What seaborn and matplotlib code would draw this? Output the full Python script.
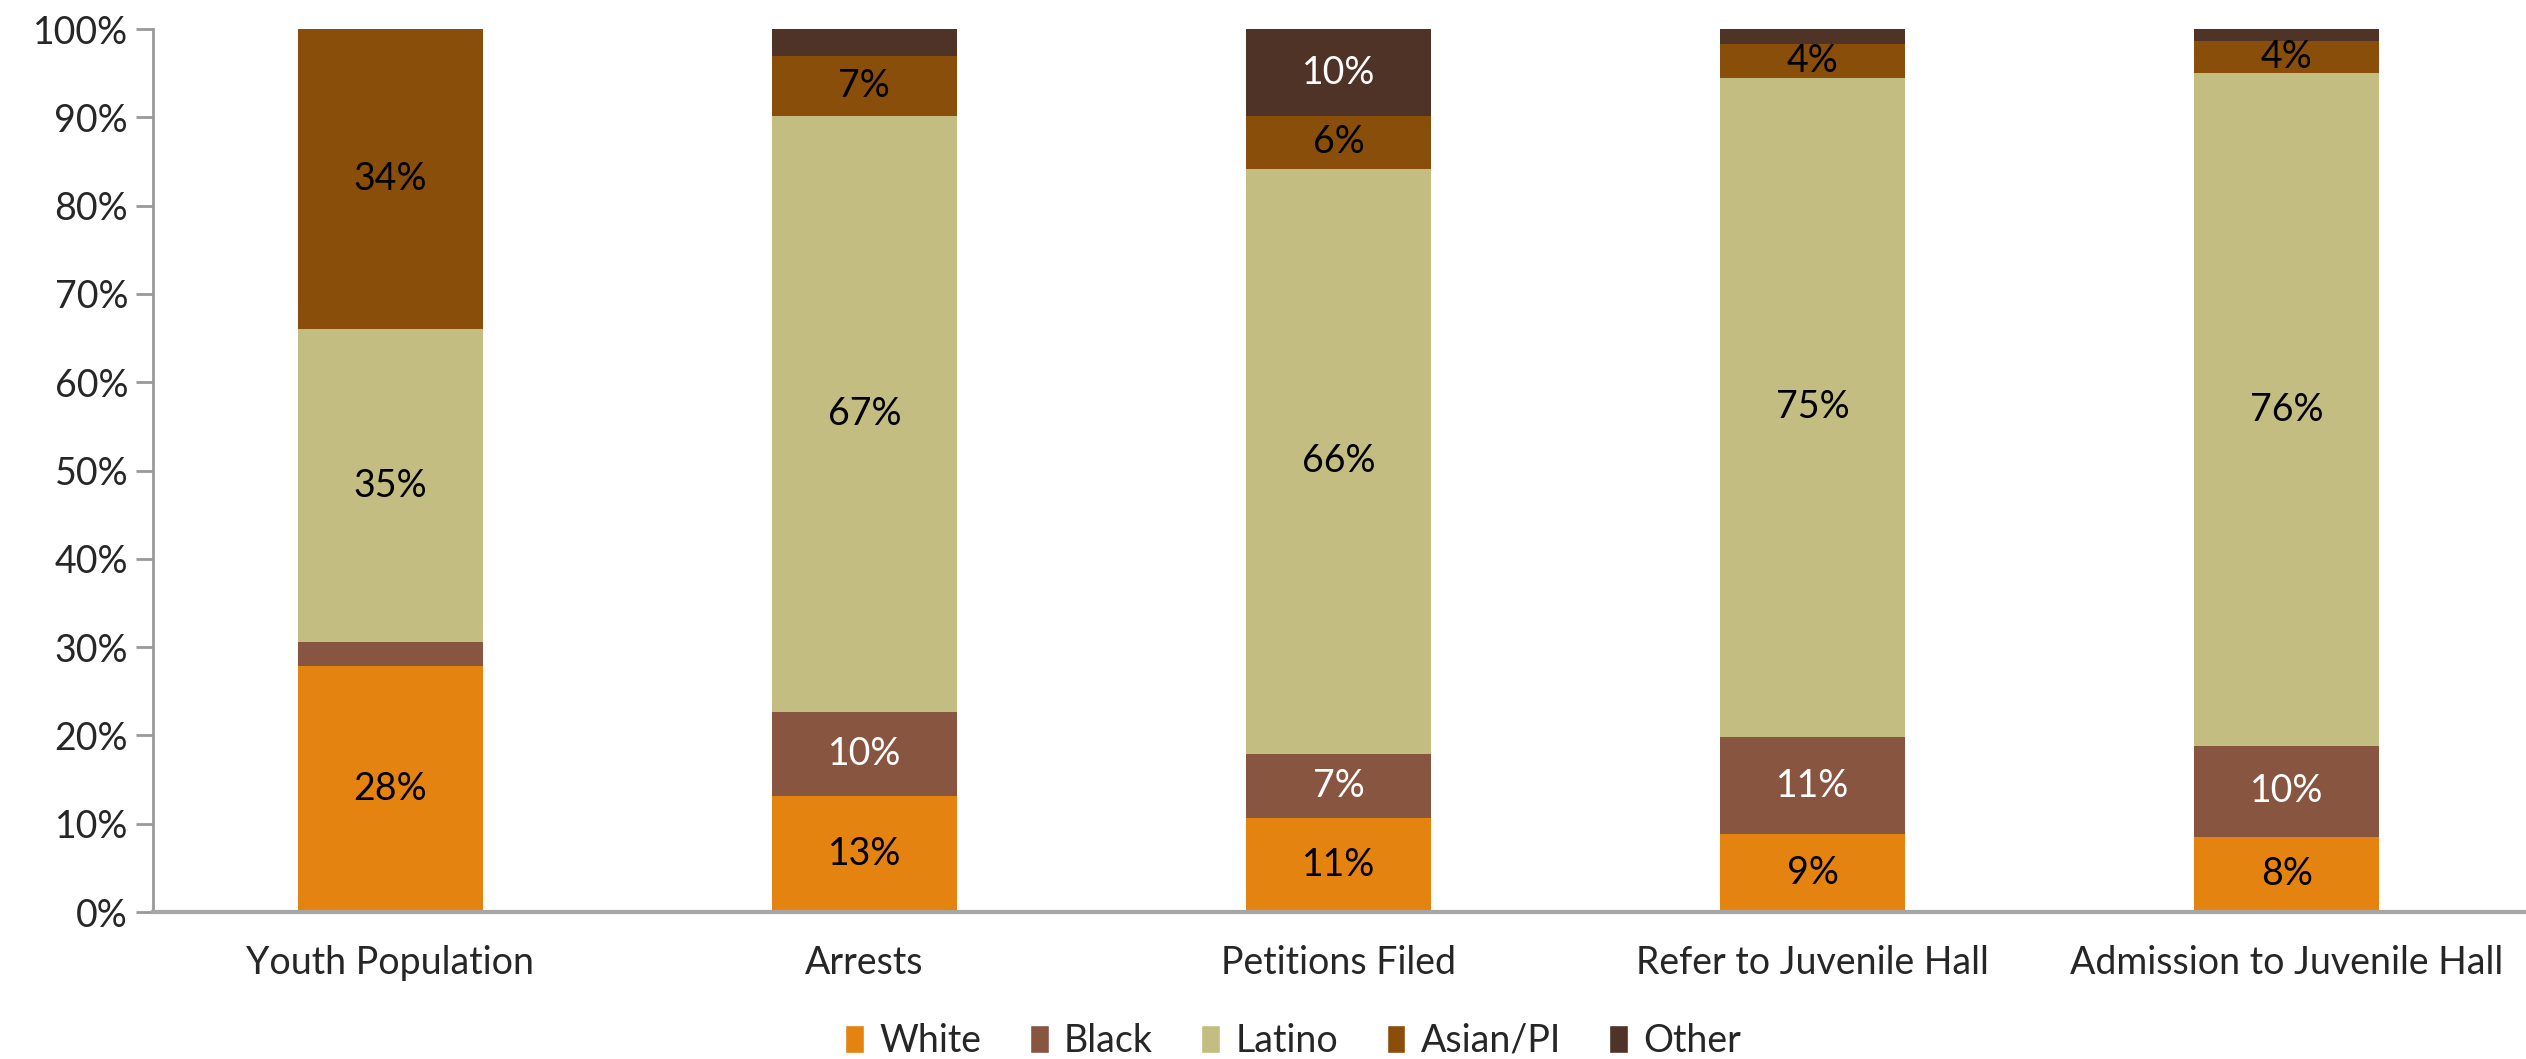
import numpy as np
import pandas as pd
import matplotlib.pyplot as plt
import seaborn as sns
from matplotlib.patches import Patch

stages = ['Youth Population', 'Arrests', 'Petitions Filed', 'Refer to Juvenile Hall', 'Admission to Juvenile Hall']
races = ['White', 'Black', 'Latino', 'Asian/PI', 'Other']

white = [27.9, 13.1, 10.6, 8.8, 8.5]
black = [2.7, 9.6, 7.3, 11.0, 10.3]
latino = [35.4, 67.4, 66.3, 74.7, 76.2]
asian = [34.0, 6.8, 5.9, 3.8, 3.6]
other = [0.0, 3.1, 9.9, 1.7, 1.4]

colors = ['#E58311', '#885640', '#C3BD82', '#8A4E0B', '#4F3326']
text_colors = ['black', 'white', 'black', 'black', 'white']

df = pd.DataFrame({'stage': stages, 'White': white, 'Black': black, 'Latino': latino,
                   'Asian/PI': asian, 'Other': other})

sns.set_style('white')
plt.rcParams['font.family'] = ['Lato', 'DejaVu Sans']

fig = plt.figure(figsize=(25.26, 10.59), dpi=100)
ax = fig.add_axes([0.0606, 0.1388, 0.9385, 0.8338])

bottom = np.zeros(len(stages))
for race, col, tcol in zip(races, colors, text_colors):
    sns.barplot(data=df, x='stage', y=race, color=col, width=0.39, bottom=bottom,
                saturation=1, ax=ax, linewidth=0)
    vals = df[race].values
    for i, v in enumerate(vals):
        if v >= 3.5:
            ax.text(i, bottom[i] + v / 2, f'{v:.0f}%', ha='center', va='center',
                    fontsize=27, color=tcol)
    bottom = bottom + vals

ax.set_ylim(0, 100)
ax.set_xlim(-0.5, 4.5)
ax.set_yticks(np.arange(0, 101, 10))
ax.set_yticklabels([f'{t}%' for t in range(0, 101, 10)], fontsize=27)
ax.set_xticks(range(len(stages)))
ax.set_xticklabels(stages, fontsize=27)
ax.set_xticks(np.arange(-0.5, 4.0, 1.0), minor=True)
ax.tick_params(axis='x', which='major', length=0, pad=24)
ax.tick_params(axis='x', which='minor', length=13, width=1.5, color='#999999', direction='out')
ax.tick_params(axis='y', length=12, width=2, color='#999999', direction='out', left=True, pad=6)
ax.set_xlabel('')
ax.set_ylabel('')

for s in ['top', 'right']:
    ax.spines[s].set_visible(False)
ax.spines['left'].set_color('#999999')
ax.spines['left'].set_linewidth(2)
ax.spines['bottom'].set_color('#a6a6a6')
ax.spines['bottom'].set_linewidth(3)

handles = [Patch(facecolor=c, label=r) for r, c in zip(races, colors)]
fig.legend(handles=handles, loc='center', bbox_to_anchor=(0.512, 0.017), ncol=5, frameon=False,
           fontsize=27, handlelength=0.5, handleheight=0.8, handletextpad=0.4, columnspacing=1.3)

fig.savefig('out.png', dpi=100)
